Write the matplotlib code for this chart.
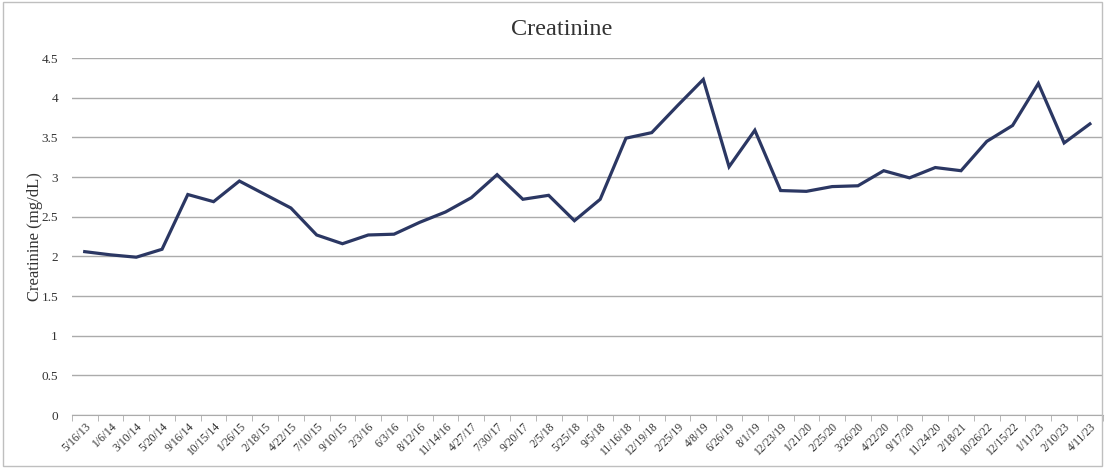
import matplotlib
matplotlib.use("Agg")
import matplotlib.pyplot as plt
from matplotlib.patches import Rectangle

dates = ["5/16/13", "1/6/14", "3/10/14", "5/20/14", "9/16/14", "10/15/14", "1/26/15",
         "2/18/15", "4/22/15", "7/10/15", "9/10/15", "2/3/16", "6/3/16", "8/12/16",
         "11/14/16", "4/27/17", "7/30/17", "9/20/17", "2/5/18", "5/25/18", "9/5/18",
         "11/16/18", "12/19/18", "2/25/19", "4/8/19", "6/26/19", "8/1/19", "12/23/19",
         "1/21/20", "2/25/20", "3/26/20", "4/22/20", "9/17/20", "11/24/20", "2/18/21",
         "10/26/22", "12/15/22", "1/11/23", "2/10/23", "4/11/23"]
creatinine = [2.06, 2.02, 1.99, 2.09, 2.78, 2.69, 2.95,
              2.78, 2.61, 2.27, 2.16, 2.27, 2.28, 2.43,
              2.56, 2.74, 3.03, 2.72, 2.77, 2.45, 2.72,
              3.49, 3.56, 3.90, 4.23, 3.13, 3.59, 2.83,
              2.82, 2.88, 2.89, 3.08, 2.99, 3.12, 3.08,
              3.45, 3.65, 4.18, 3.43, 3.67]
y_ticks = [0, 0.5, 1, 1.5, 2, 2.5, 3, 3.5, 4, 4.5]

plt.rcParams['font.family'] = ['Liberation Serif', 'DejaVu Serif']

fig = plt.figure(figsize=(11.05, 4.68), dpi=100)
fig.patches.append(Rectangle((0.003, 0.004), 0.994, 0.992, transform=fig.transFigure,
                             fill=False, edgecolor='#bfbfbf', linewidth=1))
ax = fig.add_axes([0.065, 0.113, 0.933, 0.763])

x = list(range(len(dates)))
ax.plot(x, creatinine, color='#2b3763', linewidth=2.3, solid_joinstyle='miter')

ax.set_xlim(-0.5, len(dates) - 0.5)
ax.set_ylim(0, 4.5)
ax.set_yticks(y_ticks)
ax.set_yticklabels([f"{t:g}" for t in y_ticks], fontsize=9.5, color='#333333')
ax.yaxis.grid(True, color='#ababab', linewidth=1)
ax.set_axisbelow(True)

ax.set_xticks(x)
ax.set_xticklabels(dates, rotation=45, ha='right', rotation_mode='anchor',
                   fontsize=8.3, color='#333333')
ax.tick_params(axis='x', length=0, pad=4)
ax.set_xticks([i - 0.5 for i in range(len(dates) + 1)], minor=True)
ax.tick_params(axis='x', which='minor', length=4, color='#ababab')
ax.tick_params(axis='y', length=0, pad=10)

for s in ['top', 'right', 'left']:
    ax.spines[s].set_visible(False)
ax.spines['bottom'].set_color('#ababab')

ax.set_ylabel("Creatinine (mg/dL)", fontsize=12, color='#333333', labelpad=-1)
fig.suptitle("Creatinine", x=0.508, y=0.96, fontsize=17.5, color='#333333')

fig.savefig("out.png", dpi=100)
